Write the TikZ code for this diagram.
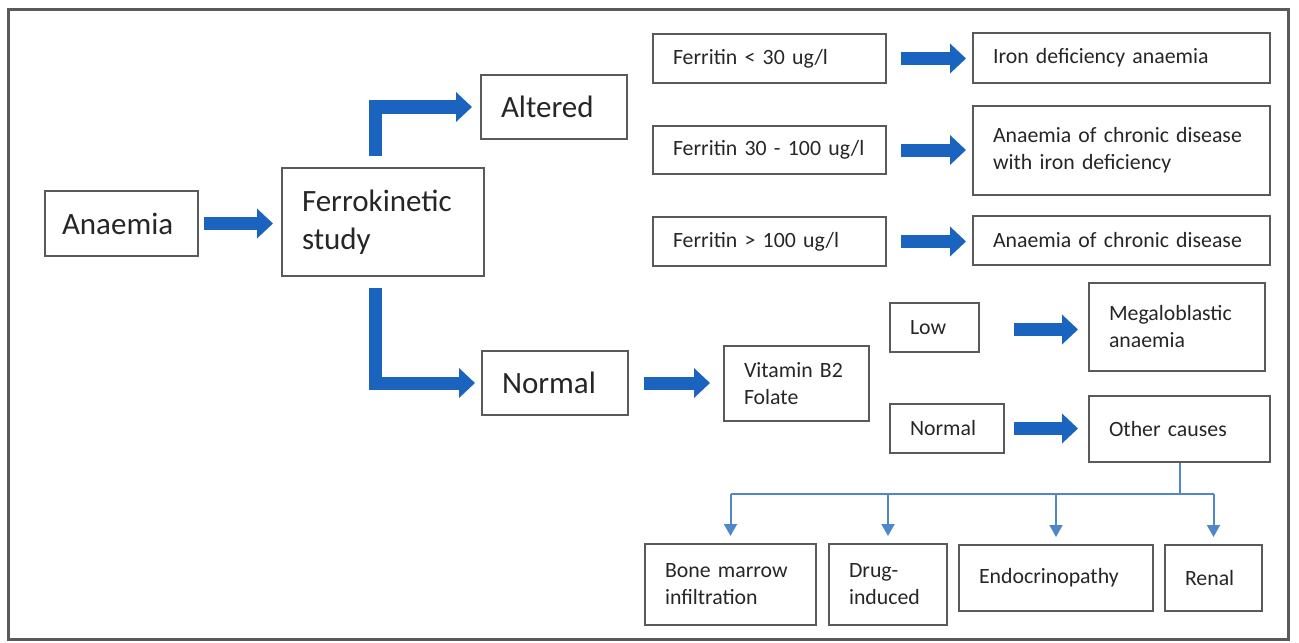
\documentclass[tikz,border=0pt]{standalone}
\usepackage{fontspec}
\setmainfont{Carlito}
\usetikzlibrary{arrows.meta}
\definecolor{arrowblue}{RGB}{26,99,190}
\definecolor{lineblue}{RGB}{80,135,200}
\definecolor{boxgray}{RGB}{90,90,90}
\hyphenpenalty=10000

\begin{document}
\begin{tikzpicture}[x=0.5pt, y=-0.5pt]
	\tikzstyle{box} = [draw=boxgray, line width=1pt, inner xsep=10pt, inner ysep=0pt, align=left, text=black!85]
	\tikzstyle{big} = [box, font=\fontsize{15.5}{19}\selectfont]
	\tikzstyle{small} = [box, font=\fontsize{10.9}{13.5}\selectfont]
	\tikzstyle{fat} = [draw=arrowblue, line width=6.5pt, -{Triangle[length=8pt, width=14.5pt]}]
	\tikzstyle{branch} = [draw=lineblue, line width=1pt]
	\tikzstyle{twig} = [branch, -{Triangle[length=6pt, width=6.5pt]}, shorten >=3.5pt]
	\useasboundingbox (0,0) rectangle (1299,642);
	\draw[boxgray, line width=1.5pt] (8,10) rectangle (1288,639);
	% first level
	\node[big, inner xsep=8.5pt, text width=59.5pt, minimum height=32.5pt] (anaemia) at (121.5, 223.5) {Anaemia};
	\node[big, text width=81pt, minimum height=54pt] (ferro) at (383, 222) {Ferrokinetic\\study};
	\node[big, text width=53pt, minimum height=32pt] (altered) at (554, 107) {Altered};
	\node[big, text width=53pt, minimum height=32pt] (normal) at (555, 383) {Normal};
	% ferritin
	\node[small, text width=96.5pt, minimum height=24.5pt] (fer1) at (769.5, 58.5) {Ferritin < 30 ug/l};
	\node[small, text width=96.5pt, minimum height=24pt] (fer2) at (769.5, 150) {Ferritin 30 - 100 ug/l};
	\node[small, text width=96.5pt, minimum height=24.5pt] (fer3) at (769.5, 241.5) {Ferritin > 100 ug/l};
	\node[small, text width=128.5pt, minimum height=25pt] (ida) at (1121.5, 58) {Iron deficiency anaemia};
	\node[small, text width=128.5pt, minimum height=44.5pt] (acdi) at (1121.5, 150.5) {Anaemia of chronic disease\\with iron deficiency};
	\node[small, text width=128.5pt, minimum height=24.5pt] (acd) at (1121.5, 240.5) {Anaemia of chronic disease};
	% vitamins
	\node[small, text width=52.5pt, minimum height=37.5pt] (vit) at (796.5, 383.5) {Vitamin B2\\Folate};
	\node[small, text width=24.5pt, minimum height=24.5pt] (low) at (934.5, 327.5) {Low};
	\node[small, text width=37pt, minimum height=24.5pt] (normb) at (947, 428.5) {Normal};
	\node[small, text width=68pt, minimum height=44pt] (mega) at (1177, 327) {Megaloblastic\\anaemia};
	\node[small, text width=70.5pt, minimum height=33pt] (other) at (1179.5, 429) {Other causes};
	% other causes
	\node[small, text width=65.5pt, minimum height=40.5pt] (bone) at (730.5, 584.5) {Bone marrow\\infiltration};
	\node[small, text width=39pt, minimum height=40.5pt] (drug) at (888, 584.5) {Drug-\\induced};
	\node[small, text width=77pt, minimum height=33pt] (endo) at (1056, 578) {Endocrinopathy};
	\node[small, text width=28.5pt, minimum height=33pt] (renal) at (1213.5, 578) {Renal};
	% thick arrows
	\draw[fat, shorten <=2.5pt, shorten >=4pt] (anaemia.east) -- (anaemia.east -| ferro.west);
	\draw[fat, shorten <=5.5pt, shorten >=4pt] ([xshift=-4pt]ferro.north) |- (altered.west);
	\draw[fat, shorten <=5.5pt, shorten >=3pt] ([xshift=-4pt]ferro.south) |- (normal.west);
	\draw[fat, shorten <=7pt, shorten >=3pt] (fer1.east) -- (fer1.east -| ida.west);
	\draw[fat, shorten <=7pt, shorten >=3pt] (fer2.east) -- (fer2.east -| acdi.west);
	\draw[fat, shorten <=7pt, shorten >=3pt] (fer3.east) -- (fer3.east -| acd.west);
	\draw[fat, shorten <=7.5pt, shorten >=6.5pt] (normal.east) -- (normal.east -| vit.west);
	\draw[fat, shorten <=17pt, shorten >=5pt] ([yshift=-1pt]low.east) -- ([yshift=-1pt]low.east -| mega.west);
	\draw[fat, shorten <=4.5pt, shorten >=5pt] (normb.east) -- (normb.east -| other.west);
	% branches
	\draw[branch] (other.south) -- ++(0,31) coordinate (split);
	\draw[branch] (bone.north |- split) -- (renal.north |- split);
	\foreach \c in {bone,drug,endo,renal}
		\draw[twig] (\c.north |- split) -- (\c.north);
\end{tikzpicture}
\end{document}
